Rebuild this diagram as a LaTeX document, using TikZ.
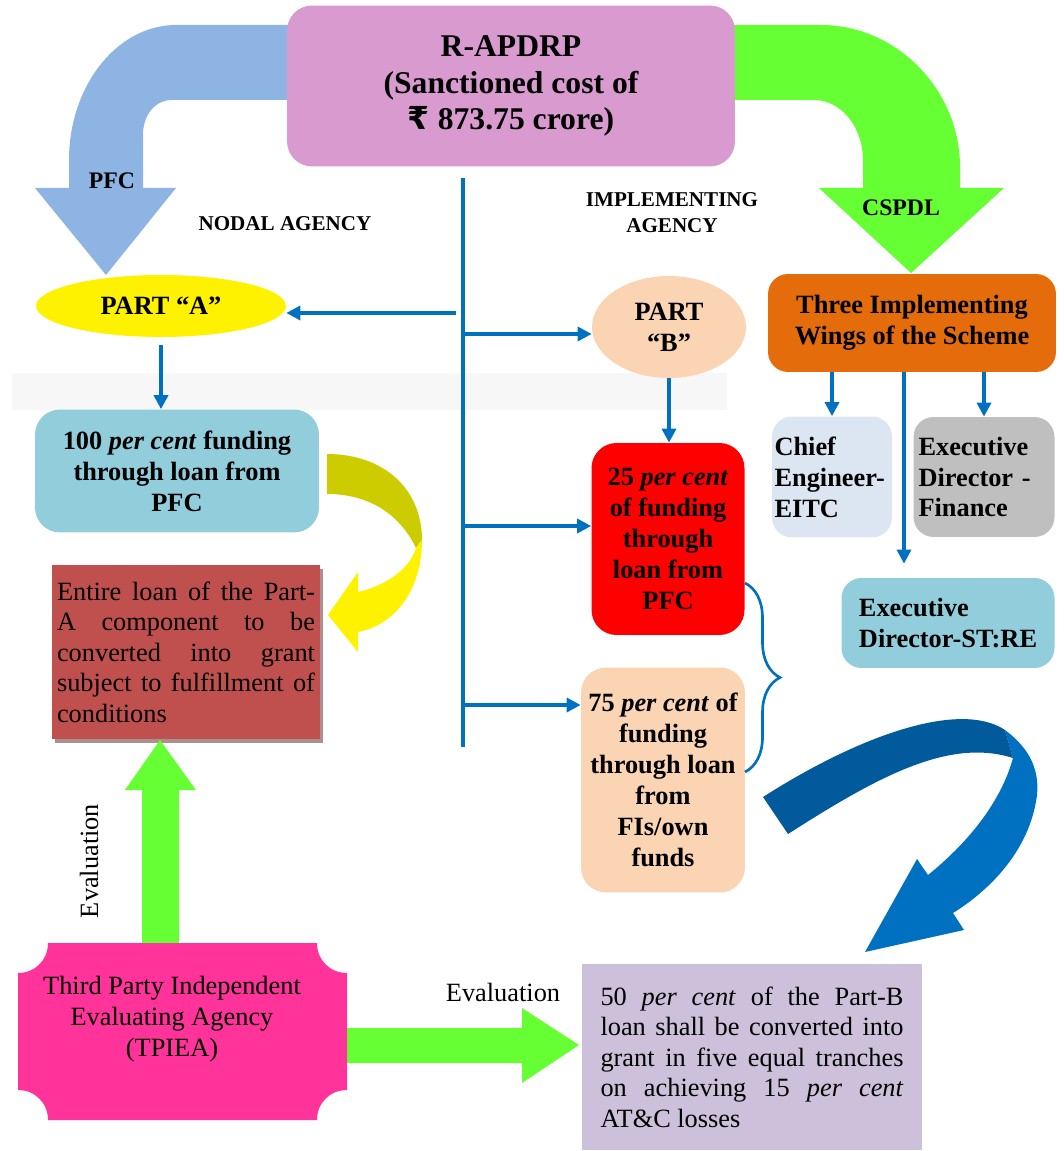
\documentclass[tikz,border=0pt]{standalone}
\usepackage{fontspec}
\setmainfont{Liberation Serif}
\newfontfamily\rupeefont{DejaVu Sans}
\usetikzlibrary{arrows.meta,shapes.geometric,decorations.pathreplacing,shadows,scopes}
\definecolor{titlec}{HTML}{D99ACF}
\definecolor{pfcc}{HTML}{8EB4E3}
\definecolor{greenc}{HTML}{66FF33}
\definecolor{orangec}{HTML}{E46C0A}
\definecolor{peachc}{HTML}{FBD4B4}
\definecolor{aquac}{HTML}{92CDDC}
\definecolor{chiefc}{HTML}{DCE6F2}
\definecolor{grayc}{HTML}{BFBFBF}
\definecolor{brickc}{HTML}{C0504D}
\definecolor{shadc}{HTML}{AD8F8F}
\definecolor{pinkc}{HTML}{FF3399}
\definecolor{lilacc}{HTML}{CCC0DA}
\definecolor{conblue}{HTML}{0070C0}
\definecolor{darkblue}{HTML}{005A9C}
\definecolor{olivec}{HTML}{CCCC00}
\definecolor{bandc}{HTML}{F7F7F7}

\begin{document}
\begin{tikzpicture}[x=0.02cm,y=-0.02cm,>={Triangle[length=0.28cm,width=0.28cm]},
    box/.style={rectangle,rounded corners=0.5cm,align=center,inner sep=2pt,font=\bfseries\fontsize{15}{17.6}\selectfont},
    txt/.style={rectangle,align=justify,inner sep=0pt,font=\fontsize{15}{17.4}\selectfont},
    lab/.style={align=center,inner sep=1pt,font=\bfseries\fontsize{12}{14.8}\selectfont},
    con/.style={draw=conblue,line width=1.9pt}]
    \useasboundingbox (0,0) rectangle (1063,1151);
    \fill[bandc] (12,373) rectangle (727,410);

    % big arrows out of the scheme box
    \fill[pfcc] (300,25) -- (176,25) .. controls (117,25) and (69,86) .. (69,160) -- (69,188) -- (35,188) -- (106,275) -- (176,188) -- (143,188) -- (143,135) .. controls (143,115) and (155,100) .. (172,100) -- (300,100) -- cycle;
    \fill[greenc] (720,25) -- (821,25) .. controls (897,25) and (960,90) .. (960,167) -- (960,188) -- (1004,188) -- (911,273) -- (819,188) -- (863,188) -- (863,160) .. controls (863,127) and (841,100) .. (814,100) -- (720,100) -- cycle;

    \node[box,fill=titlec,minimum width=8.96cm,minimum height=3.22cm,font=\bfseries\fontsize{18}{20.6}\selectfont] (rap) at (511,86) {R-APDRP\\(Sanctioned cost of\\{\rupeefont ₹} 873.75 crore)};
    \node[lab,font=\bfseries\fontsize{13.5}{16}\selectfont] (pfc) at (112,181) {PFC};
    \node[lab,font=\bfseries\fontsize{13.5}{16}\selectfont] (csp) at (901,208) {CSPDL};
    \node[lab] (nod) at (285,224) {NODAL AGENCY};
    \node[lab] (imp) at (672,213) {IMPLEMENTING\\AGENCY};

    % part A side
    \node[box,ellipse,fill=yellow,minimum width=5cm,minimum height=1.24cm] (pa) at (161,306) {PART “A”};
    \node[box,fill=aquac,minimum width=5.68cm,minimum height=2.46cm] (b100) at (177,471) {100 \textit{per cent} funding\\through loan from\\PFC};
    \node[txt,fill=brickc,minimum width=5.36cm,minimum height=3.5cm,text width=5.16cm,
        drop shadow={shadow xshift=0.06cm,shadow yshift=-0.08cm,fill=shadc,opacity=1}] (ent) at (186,652)
        {Entire loan of the Part-\linebreak A component to be\linebreak converted into grant\linebreak subject to fulfillment of\linebreak conditions};
    \fill[olivec] (327,454) .. controls (385,454) and (422,490) .. (422,540) -- (416,548) .. controls (400,515) and (370,494) .. (327,494) -- cycle;
    \fill[yellow] (422,540) .. controls (422,590) and (395,625) .. (358,632) -- (358,652) -- (328,615) -- (358,572) -- (358,592) .. controls (388,585) and (410,568) .. (416,548) -- cycle;

    % part B side
    \node[box,ellipse,fill=peachc,minimum width=3.08cm,minimum height=2.04cm] (pb) at (669,327) {PART\\“B”};
    \node[box,fill=red,minimum width=3.06cm,minimum height=3.84cm] (b25) at (668,539) {25 \textit{per cent}\\of funding\\through\\loan from\\PFC};
    \node[box,fill=peachc,minimum width=3.28cm,minimum height=4.5cm] (b75) at (663,780) {75 \textit{per cent} of\\funding\\through loan\\from\\FIs/own\\funds};
    \draw[conblue,line width=1.5pt,decorate,decoration={brace,amplitude=0.7cm}] (745,583) -- (745,772);

    % implementing wings
    \node[box,fill=orangec,rounded corners=0.4cm,minimum width=5.76cm,minimum height=1.96cm] (ow) at (912,323) {Three Implementing\\Wings of the Scheme};
    \node[box,fill=chiefc,rounded corners=0.4cm,align=left,text width=2.3cm,inner sep=1pt,minimum width=2.4cm,minimum height=2.42cm] (ce) at (832,477) {Chief\\Engineer-\\EITC};
    \node[box,fill=grayc,rounded corners=0.4cm,align=left,text width=2.62cm,inner sep=1pt,minimum width=2.82cm,minimum height=2.4cm] (fin) at (984,477) {Executive\\Director -\\Finance};
    \node[box,fill=aquac,rounded corners=0.4cm,align=left,minimum width=4.26cm,minimum height=1.8cm] (st) at (948,623) {Executive\\Director-ST:RE};

    % evaluation
    \fill[greenc] (142,945) -- (142,790) -- (125,790) -- (160,740) -- (196,790) -- (179,790) -- (179,945) -- cycle;
    \fill[greenc] (345,1028) -- (522,1028) -- (522,1008) -- (579,1045) -- (522,1083) -- (522,1063) -- (345,1063) -- cycle;
    \fill[pinkc] (48,943) -- (317,943) .. controls (317,960) and (330,973) .. (347,973) -- (347,1090) .. controls (330,1090) and (317,1103) .. (317,1120) -- (48,1120) .. controls (48,1103) and (35,1090) .. (18,1090) -- (18,973) .. controls (35,973) and (48,960) .. (48,943) -- cycle;
    \node[align=center,font=\fontsize{15}{17.6}\selectfont] (tp) at (172,1019) {Third Party Independent\\Evaluating Agency\\(TPIEA)};
    \node[font=\fontsize{15}{17}\selectfont,rotate=90] (ev1) at (89,861) {Evaluation};
    \node[font=\fontsize{15}{17}\selectfont] (ev2) at (503,992) {Evaluation};
    \node[txt,fill=lilacc,minimum width=6.82cm,minimum height=3.74cm,text width=6.06cm] (b50) at (752,1057)
        {50 \textit{per cent} of the Part-B\linebreak loan shall be converted into\linebreak grant in five equal tranches\linebreak on achieving 15 \textit{per cent}\linebreak AT\&C losses};
    \fill[conblue] (1005,730) .. controls (1025,745) and (1040,765) .. (1037,795) .. controls (1030,850) and (990,890) .. (953,913) -- (964,930) -- (865,952) -- (917,859) -- (928,875) .. controls (965,845) and (1000,805) .. (1013,758) -- cycle;
    \fill[darkblue] (763,797) .. controls (860,735) and (960,700) .. (1005,730) -- (1013,758) .. controls (950,738) and (880,775) .. (788,834) -- cycle;

    % connectors
    \coordinate (bt) at (463,178);
    \coordinate (bb) at (463,747);
    \coordinate (ba) at (456,313);
    \coordinate (bp) at (463,334);
    \coordinate (bq) at (463,526);
    \coordinate (br) at (463,705);
    \draw[con] (bt) -- (bb);
    {[con,->]
    \draw (ba) -- (ba -| pa.east);
    \draw (bp) -- (bp -| pb.west);
    \draw (bq) -- (bq -| b25.west);
    \draw (br) -- (br -| b75.west);
    \draw[shorten <=0.16cm] (pa.south) -- (pa.south |- b100.north);
    \draw (pb.south) -- (pb.south |- b25.north);
    \draw (ce.north |- ow.south) -- (ce.north);
    \draw (fin.north |- ow.south) -- (fin.north);
    \draw[shorten >=0.28cm] (ow.south) ++(-8,0) coordinate (w3) -- (w3 |- st.north);
    }
\end{tikzpicture}
\end{document}
